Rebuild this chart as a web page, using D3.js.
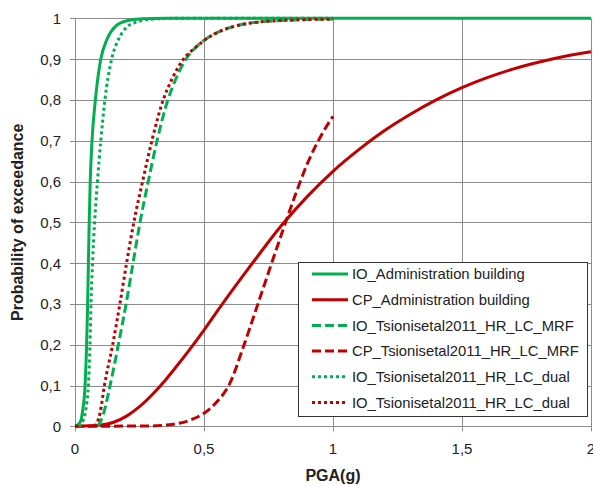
<html>
<head>
<meta charset="utf-8">
<title>Fragility curves</title>
<style>
body{ margin:0; padding:0; background:white; }
text{ font-family:'Liberation Sans', Arial, sans-serif; fill:#222; }
</style>
</head>
<body>
<svg id="chart" width="593" height="487"></svg>
<script src="https://d3js.org/d3.v7.min.js"></script>
<script>
// x = PGA(g), y = probability of exceedance
var ioAdmin = [[0,0],[0.02,0.01],[0.03,0.04],[0.039,0.1],[0.045,0.2],[0.049,0.3],[0.052,0.4],[0.055,0.5],[0.059,0.6],[0.066,0.7],[0.079,0.8],[0.1,0.9],[0.125,0.95],[0.16,0.982],[0.2,0.994],[0.26,0.999],[0.35,1],[2,1]];
var cpAdmin = [[0,0],[0.1,0.003],[0.15,0.01],[0.2,0.025],[0.25,0.048],[0.3,0.078],[0.35,0.113],[0.4,0.152],[0.45,0.193],[0.5,0.236],[0.55,0.281],[0.6,0.325],[0.65,0.368],[0.7,0.41],[0.8,0.492],[0.9,0.563],[1,0.625],[1.1,0.678],[1.2,0.725],[1.3,0.765],[1.4,0.8],[1.5,0.83],[1.6,0.855],[1.7,0.876],[1.8,0.893],[1.9,0.907],[2,0.918]];
var ioMRF = [[0.09,0],[0.11,0.03],[0.136,0.1],[0.168,0.2],[0.198,0.3],[0.225,0.4],[0.252,0.5],[0.284,0.6],[0.318,0.7],[0.36,0.8],[0.39,0.85],[0.425,0.895],[0.47,0.93],[0.53,0.958],[0.6,0.977],[0.7,0.99],[0.85,0.996],[1,0.998]];
var cpMRF = [[0,0],[0.3,0.001],[0.35,0.003],[0.4,0.007],[0.45,0.016],[0.5,0.032],[0.55,0.06],[0.6,0.105],[0.65,0.19],[0.7,0.283],[0.75,0.377],[0.8,0.47],[0.85,0.56],[0.9,0.643],[0.95,0.708],[1,0.76]];
var ioDual = [[0.015,0],[0.035,0.02],[0.046,0.06],[0.052,0.1],[0.058,0.2],[0.062,0.3],[0.068,0.4],[0.076,0.5],[0.087,0.6],[0.1,0.7],[0.116,0.8],[0.142,0.9],[0.17,0.95],[0.2,0.978],[0.24,0.991],[0.3,0.998],[0.4,1],[1,1]];
var cpDual = [[0.075,0],[0.097,0.032],[0.114,0.1],[0.146,0.2],[0.174,0.3],[0.2,0.4],[0.228,0.5],[0.262,0.6],[0.298,0.7],[0.342,0.8],[0.375,0.85],[0.415,0.895],[0.47,0.93],[0.53,0.958],[0.6,0.977],[0.7,0.99],[0.85,0.996],[1,0.998]];

var seriesNames = ["IO_Administration building","CP_Administration building","IO_Tsionisetal2011_HR_LC_MRF","CP_Tsionisetal2011_HR_LC_MRF","IO_Tsionisetal2011_HR_LC_dual","IO_Tsionisetal2011_HR_LC_dual"];
var seriesData = [ioAdmin, cpAdmin, ioMRF, cpMRF, ioDual, cpDual];
var xTicks = [0, 0.5, 1, 1.5, 2];
var yTicks = [0, 0.1, 0.2, 0.3, 0.4, 0.5, 0.6, 0.7, 0.8, 0.9, 1];

var green = "#00b050", red = "#c00000";
var colors = [green, red, green, red, green, red];
var dashes = [null, null, "9,4", "9,4", "3,3", "3,3"];

var svg = d3.select("#chart");
var plotLeft = 75, plotRight = 591, plotTop = 18.3, plotBottom = 426.3;

var x = d3.scaleLinear().domain([0, 2]).range([plotLeft, plotRight]);
var y = d3.scaleLinear().domain([0, 1]).range([plotBottom, plotTop]);

var fmt = function(d){ return String(d).replace(".", ","); };

// grid
svg.append("g").selectAll("line").data(yTicks).enter().append("line")
    .attr("x1", plotLeft - 5).attr("x2", plotRight)
    .attr("y1", function(d){ return Math.round(y(d)) + 0.5; })
    .attr("y2", function(d){ return Math.round(y(d)) + 0.5; })
    .attr("stroke", "#8c8c8c").attr("stroke-width", 1);
svg.append("g").selectAll("line").data(xTicks).enter().append("line")
    .attr("x1", function(d){ return Math.round(x(d)) + 0.5; })
    .attr("x2", function(d){ return Math.round(x(d)) + 0.5; })
    .attr("y1", plotTop).attr("y2", plotBottom + 5)
    .attr("stroke", "#8c8c8c").attr("stroke-width", 1);

// tick labels
svg.append("g").selectAll("text").data(yTicks).enter().append("text")
    .attr("x", 61).attr("y", function(d){ return y(d); })
    .attr("dy", "0.36em").attr("text-anchor", "end")
    .style("font-size", "15px").text(fmt);
svg.append("g").selectAll("text").data(xTicks).enter().append("text")
    .attr("x", function(d){ return x(d); }).attr("y", 454)
    .attr("text-anchor", "middle")
    .style("font-size", "15px").text(fmt);

// axis titles
svg.append("text").attr("x", (plotLeft + plotRight) / 2).attr("y", 481)
    .attr("text-anchor", "middle").style("font-size", "16px").style("font-weight", "bold")
    .text("PGA(g)");
svg.append("text").attr("transform", "translate(23," + ((plotTop + plotBottom) / 2) + ") rotate(-90)")
    .attr("text-anchor", "middle").style("font-size", "16px").style("font-weight", "bold")
    .text("Probability of exceedance");

// curves
var line = d3.line()
    .x(function(d){ return x(d[0]); })
    .y(function(d){ return y(d[1]); })
    .curve(d3.curveMonotoneX);

seriesData.forEach(function(data, i){
    svg.append("path")
        .attr("d", line(data))
        .attr("fill", "none")
        .attr("stroke", colors[i])
        .attr("stroke-width", 3)
        .attr("stroke-dasharray", dashes[i]);
});

// legend
var lg = svg.append("g");
lg.append("rect").attr("x", 298.5).attr("y", 262.5).attr("width", 289).attr("height", 154)
    .attr("fill", "white").attr("stroke", "#333").attr("stroke-width", 1);
seriesNames.forEach(function(name, i){
    var ly = 274 + i * 25.7;
    lg.append("line").attr("x1", 312).attr("x2", 348).attr("y1", ly).attr("y2", ly)
        .attr("stroke", colors[i]).attr("stroke-width", 3)
        .attr("stroke-dasharray", dashes[i]);
    lg.append("text").attr("x", 352).attr("y", ly).attr("dy", "0.36em")
        .style("font-size", "14.8px").text(name);
});
</script>
</body>
</html>
